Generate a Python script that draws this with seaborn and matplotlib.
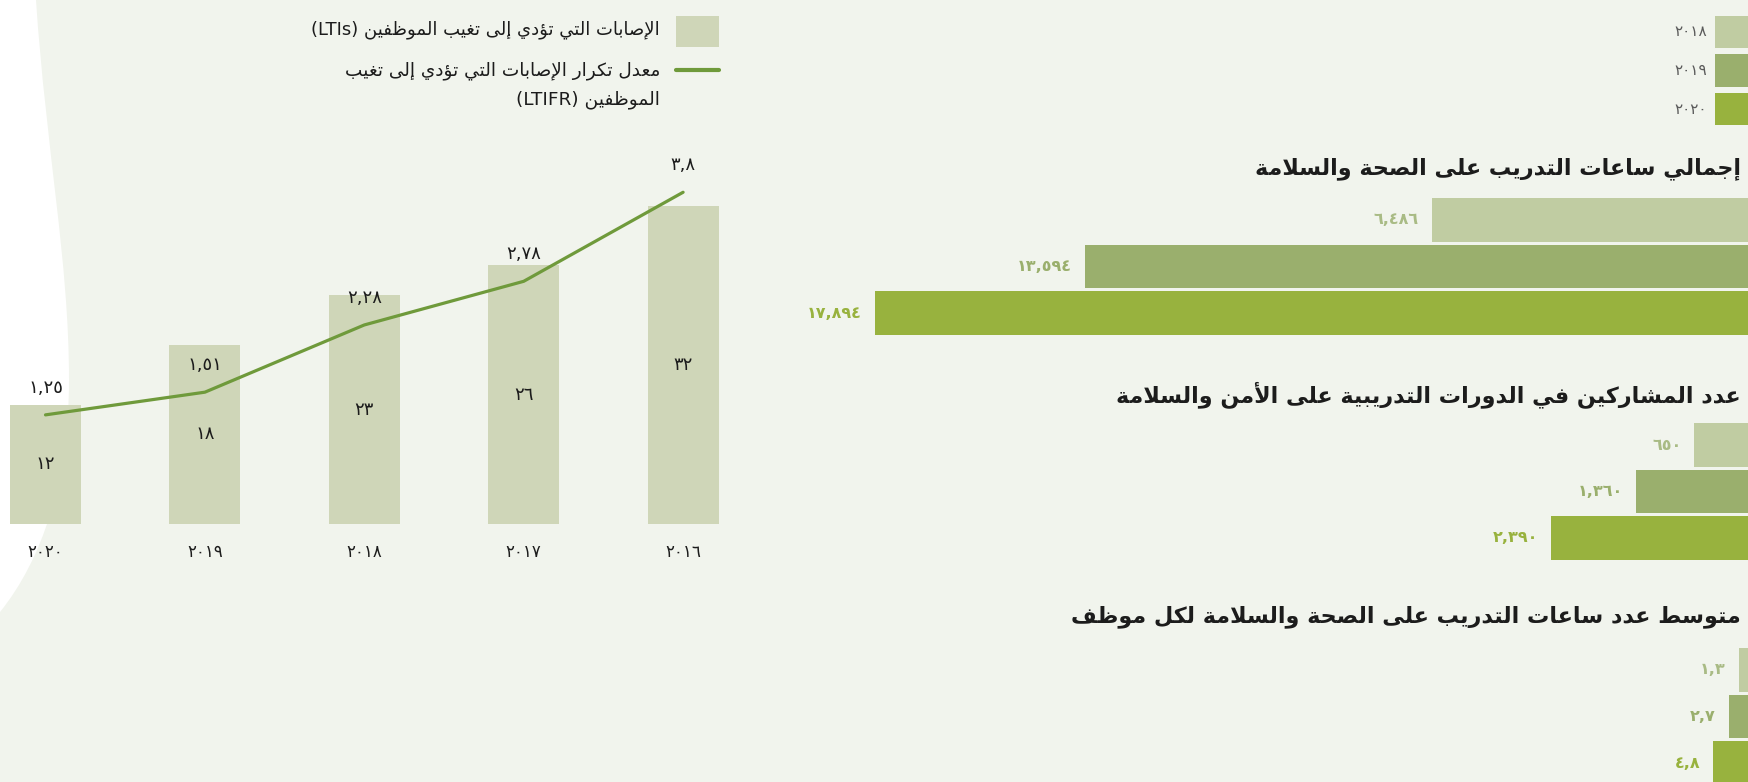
import re
import numpy as np
import pandas as pd
import matplotlib
matplotlib.use("Agg")
import matplotlib.pyplot as plt
from matplotlib.patches import Rectangle, PathPatch
from matplotlib.lines import Line2D
from matplotlib.path import Path
import seaborn as sns

# ---------------------------------------------------------------- data
lti_years = ["٢٠٢٠", "٢٠١٩", "٢٠١٨", "٢٠١٧", "٢٠١٦"]
lti_counts = [12, 18, 23, 26, 32]
ltifr_values = [1.25, 1.51, 2.28, 2.78, 3.8]

lti_legend = "الإصابات التي تؤدي إلى تغيب الموظفين (LTIs)"
ltifr_legend = ["معدل تكرار الإصابات التي تؤدي إلى تغيب", "الموظفين (LTIFR)"]

train_years = ["٢٠١٨", "٢٠١٩", "٢٠٢٠"]
training_hours = [6486, 13594, 17894]
participants = [650, 1360, 2390]
hours_per_employee = [1.3, 2.7, 4.8]

titles = [
    "إجمالي ساعات التدريب على الصحة والسلامة",
    "عدد المشاركين في الدورات التدريبية على الأمن والسلامة",
    "متوسط عدد ساعات التدريب على الصحة والسلامة لكل موظف",
]

# ---------------------------------------------------------------- colours
BG = "#f1f4ed"
LTI_BAR = "#cfd6b8"
LINE = "#6f9a3b"
YEAR_COLORS = ["#c0cca2", "#9aaf6d", "#98b23e"]
LABEL_COLORS = ["#a9bb85", "#9aaf6d", "#98b23e"]
TEXT = "#1c1c1c"

# ---------------------------------------------------------------- Arabic text helpers
_FOUR = {"ئ": 0xFE89, "ب": 0xFE8F, "ت": 0xFE95, "ث": 0xFE99, "ج": 0xFE9D,
         "ح": 0xFEA1, "خ": 0xFEA5, "س": 0xFEB1, "ش": 0xFEB5, "ص": 0xFEB9,
         "ض": 0xFEBD, "ط": 0xFEC1, "ظ": 0xFEC5, "ع": 0xFEC9, "غ": 0xFECD,
         "ف": 0xFED1, "ق": 0xFED5, "ك": 0xFED9, "ل": 0xFEDD, "م": 0xFEE1,
         "ن": 0xFEE5, "ه": 0xFEE9, "ي": 0xFEF1}
_TWO = {"آ": 0xFE81, "أ": 0xFE83, "ؤ": 0xFE85, "إ": 0xFE87, "ا": 0xFE8D,
        "ة": 0xFE93, "د": 0xFEA9, "ذ": 0xFEAB, "ر": 0xFEAD, "ز": 0xFEAF,
        "و": 0xFEED, "ى": 0xFEEF}
_LAM_ALEF = {"آ": 0xFEF5, "أ": 0xFEF7, "إ": 0xFEF9, "ا": 0xFEFB}
_TATWEEL = "ـ"


def _links_next(ch):
    return ch in _FOUR or ch == _TATWEEL


def _links_prev(ch):
    return ch in _FOUR or ch in _TWO or ch == _TATWEEL


def _shape(text):
    out = []
    i, n = 0, len(text)
    while i < n:
        ch = text[i]
        prev = i > 0 and _links_next(text[i - 1])
        if ch == "ل" and i + 1 < n and text[i + 1] in _LAM_ALEF:
            out.append(chr(_LAM_ALEF[text[i + 1]] + (1 if prev else 0)))
            i += 2
            continue
        if ch in _FOUR or ch in _TWO:
            nxt = i + 1 < n and _links_next(ch) and _links_prev(text[i + 1])
            base = _FOUR.get(ch, _TWO.get(ch))
            if prev and nxt:
                out.append(chr(base + 3))
            elif prev:
                out.append(chr(base + 1))
            elif nxt:
                out.append(chr(base + 2))
            else:
                out.append(chr(base))
        else:
            out.append(ch)
        i += 1
    return "".join(out)


_LTR = r"[A-Za-z0-9\u0660-\u0669]+(?:[.,][A-Za-z0-9\u0660-\u0669]+)*"
_MIRROR = str.maketrans("()", ")(")


def rtl(text):
    shaped = _shape(text)
    runs = re.findall(_LTR + r"|[^A-Za-z0-9\u0660-\u0669]+", shaped)
    parts = []
    for run in reversed(runs):
        if re.fullmatch(_LTR, run):
            parts.append(run)
        else:
            parts.append(run[::-1].translate(_MIRROR))
    return "".join(parts)


_DIGITS = str.maketrans("0123456789.", "٠١٢٣٤٥٦٧٨٩,")


def ar_num(v):
    s = f"{v:,}" if isinstance(v, int) else str(v)
    return s.translate(_DIGITS)


# ---------------------------------------------------------------- figure
sns.set_style("white")
plt.rcParams["font.family"] = ["DejaVu Sans"]

W, H = 1748, 782
fig = plt.figure(figsize=(W / 100, H / 100), dpi=100, facecolor=BG)


def fx(x):
    return x / W


def fy(y):
    return 1 - y / H


# white curved panel on the left edge
verts = [(0, 0), (36, 0), (46, 150), (69, 260), (69, 380),
         (69, 480), (42, 560), (0, 612), (0, 0)]
codes = [Path.MOVETO, Path.LINETO, Path.CURVE4, Path.CURVE4, Path.CURVE4,
         Path.CURVE4, Path.CURVE4, Path.CURVE4, Path.CLOSEPOLY]
blob = PathPatch(Path([(fx(a), fy(b)) for a, b in verts], codes),
                 transform=fig.transFigure, facecolor="white",
                 edgecolor="none", zorder=-5)
fig.add_artist(blob)

# ---------------------------------------------------------------- LTI / LTIFR chart
pitch = 159.4
x0 = 45.5
ax_w = 760
base_y, top_y = 524, 140
ax = fig.add_axes([0, fy(base_y), fx(ax_w), (base_y - top_y) / H])
ax.patch.set_alpha(0)
lti_df = pd.DataFrame({"year": lti_years, "lti": lti_counts})
sns.barplot(data=lti_df, x="year", y="lti", order=lti_years, color=LTI_BAR,
            saturation=1, width=0.445, linewidth=0, ax=ax)
ax.set_xlim(-x0 / pitch, (ax_w - x0) / pitch)
ax.set_ylim(0, (base_y - top_y) / 9.95)
ax.bar_label(ax.containers[0], labels=[ar_num(v) for v in lti_counts],
             label_type="center", fontsize=13, color=TEXT)
ax.set_xlabel("")
ax.set_ylabel("")
ax.set_yticks([])
ax.tick_params(axis="x", length=0, pad=14, labelsize=12, labelcolor=TEXT)
for s in ax.spines.values():
    s.set_visible(False)

ax2 = ax.twinx()
ax2.patch.set_alpha(0)
pos = np.arange(len(lti_years))
sns.lineplot(x=pos, y=ltifr_values, color=LINE, linewidth=2.3, ax=ax2)
ax2.set_ylim(0, (base_y - top_y) / 87.3)
ax2.set_yticks([])
for s in ax2.spines.values():
    s.set_visible(False)
for p, v in zip(pos, ltifr_values):
    ax2.annotate(ar_num(v), (p, v), xytext=(0, 27), textcoords="offset pixels",
                 ha="center", va="center", fontsize=13, color=TEXT)

# legend of the LTI chart
fig.add_artist(Rectangle((fx(676), fy(47)), fx(43), 31 / H,
                         transform=fig.transFigure, facecolor=LTI_BAR,
                         edgecolor="none"))
fig.add_artist(Line2D([fx(676), fx(719)], [fy(70), fy(70)],
                      transform=fig.transFigure, color=LINE, linewidth=3))
fig.text(fx(660), fy(30), rtl(lti_legend), ha="right", va="center",
         fontsize=13, color=TEXT)
for k, line in enumerate(ltifr_legend):
    fig.text(fx(660), fy(71 + 29 * k), rtl(line), ha="right", va="center",
             fontsize=13.3, color=TEXT)

# ---------------------------------------------------------------- year legend
for k, (yr, col) in enumerate(zip(train_years, YEAR_COLORS)):
    top = 16 + 38.5 * k
    fig.add_artist(Rectangle((fx(1715), fy(top + 32)), fx(33), 32 / H,
                             transform=fig.transFigure, facecolor=col,
                             edgecolor="none"))
    fig.text(fx(1707), fy(top + 16), yr, ha="right", va="center",
             fontsize=11, color="#5a5a5a")

# ---------------------------------------------------------------- training bar charts
row = 46.5
panels = [
    (training_hours, 0.04879, 196.75, 169),
    (participants, 0.0824, 421.75, 395),
    (hours_per_employee, 7.2, 646.75, 617),
]
left_px = 700
for (vals, scale, top, title_y), title in zip(panels, titles):
    axh = fig.add_axes([fx(left_px), fy(top + 3 * row), fx(W - left_px),
                        3 * row / H])
    axh.patch.set_alpha(0)
    df = pd.DataFrame({"year": train_years, "value": vals})
    sns.barplot(data=df, x="value", y="year", hue="year", order=train_years,
                hue_order=train_years, palette=YEAR_COLORS, saturation=1,
                orient="h", width=0.946, linewidth=0, legend=False, ax=axh)
    axh.set_xlim((W - left_px) / scale, 0)
    axh.set_ylim(2.5, -0.5)
    axh.axis("off")
    for k, v in enumerate(vals):
        axh.annotate(ar_num(v), (v, k), xytext=(-13, 0),
                     textcoords="offset pixels", ha="right", va="center",
                     fontsize=11.5, fontweight="bold", color=LABEL_COLORS[k])
    fig.text(fx(1741), fy(title_y), rtl(title), ha="right", va="center",
             fontsize=16, fontweight="bold", color=TEXT)

fig.savefig("out.png", dpi=100, facecolor=BG)
